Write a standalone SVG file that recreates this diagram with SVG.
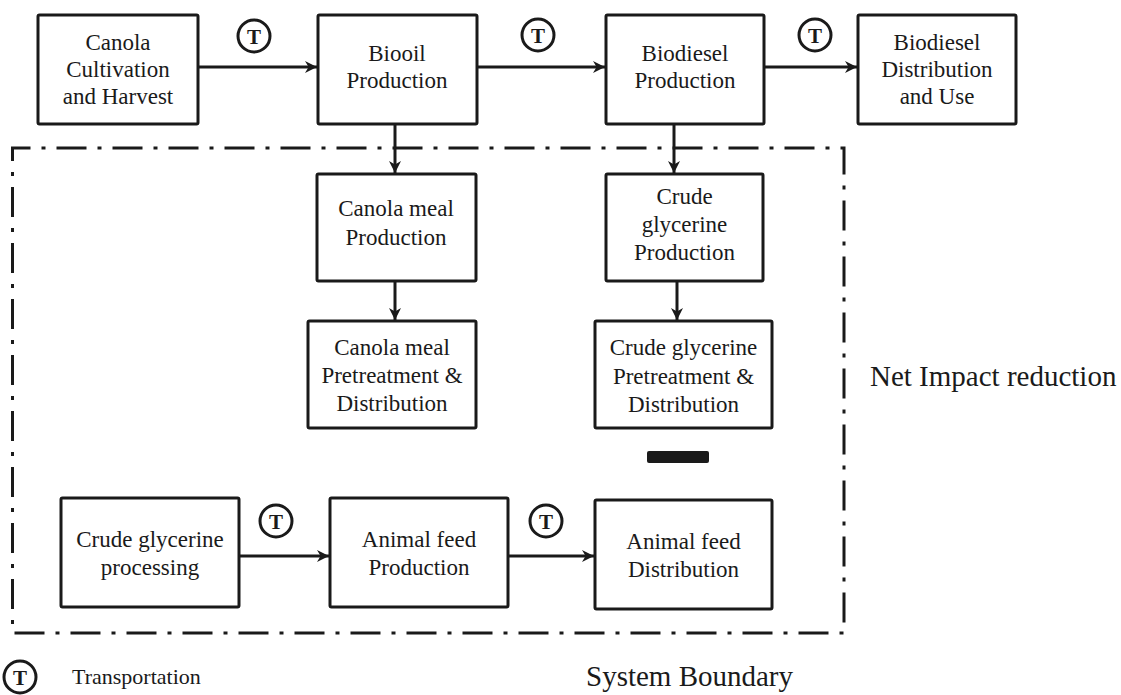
<svg xmlns="http://www.w3.org/2000/svg" width="1121" height="695" viewBox="0 0 1121 695">
  <style>
    .box { fill: #ffffff; stroke: #1a1a1a; stroke-width: 3; }
    .lbl { font-family: "Liberation Serif", "Times New Roman", serif; font-size: 23px; fill: #1a1a1a; text-anchor: middle; }
    .note { font-family: "Liberation Serif", "Times New Roman", serif; fill: #1a1a1a; }
    .flow { stroke: #1a1a1a; stroke-width: 3; fill: none; marker-end: url(#arrow); }
    .tcirc { fill: #ffffff; stroke: #1a1a1a; stroke-width: 3; }
    .tlet { font-family: "Liberation Serif", "Times New Roman", serif; font-size: 21px; font-weight: bold; fill: #1a1a1a; text-anchor: middle; }
    .boundary { fill: none; stroke: #1a1a1a; stroke-width: 3; stroke-dasharray: 30 11 4 11; }
  </style>
  <defs>
    <marker id="arrow" viewBox="0 0 10 10" refX="10" refY="5" markerWidth="4" markerHeight="4" markerUnits="strokeWidth" orient="auto">
      <path d="M0,0 L10,5 L0,10 L3,5 Z" fill="#1a1a1a"/>
    </marker>
    <g id="tsym">
      <circle class="tcirc" cx="0" cy="0" r="16"/>
      <text class="tlet" x="0" y="7.5">T</text>
    </g>
  </defs>
  <rect width="1121" height="695" fill="#ffffff"/>

  <!-- system boundary (dash-dot) -->
  <path class="boundary" d="M12.5,160 L12.5,148 L844,148 L844,633 L12.5,633 Z"/>

  <!-- connectors -->
  <g id="connectors">
    <line class="flow" x1="198" y1="67" x2="317" y2="67"/>
    <line class="flow" x1="477" y1="67" x2="605" y2="67"/>
    <line class="flow" x1="764" y1="67" x2="857" y2="67"/>
    <line class="flow" x1="395" y1="124" x2="395" y2="173"/>
    <line class="flow" x1="674" y1="124" x2="674" y2="173"/>
    <line class="flow" x1="395" y1="281" x2="395" y2="320"/>
    <line class="flow" x1="677" y1="281" x2="677" y2="320"/>
    <line class="flow" x1="239" y1="556" x2="329" y2="556"/>
    <line class="flow" x1="508" y1="556" x2="594" y2="556"/>
    <use href="#tsym" x="254" y="36"/>
    <use href="#tsym" x="538" y="35"/>
    <use href="#tsym" x="815" y="35"/>
    <use href="#tsym" x="276" y="521"/>
    <use href="#tsym" x="546" y="521"/>
  </g>

  <!-- top row -->
  <g id="canola-cultivation">
    <rect class="box" x="38" y="15" width="160" height="109" rx="1.5"/>
    <text class="lbl" x="118" y="50">Canola</text>
    <text class="lbl" x="118" y="77">Cultivation</text>
    <text class="lbl" x="118" y="104">and Harvest</text>
  </g>
  <g id="biooil-production">
    <rect class="box" x="318" y="15" width="159" height="109" rx="1.5"/>
    <text class="lbl" x="397" y="61">Biooil</text>
    <text class="lbl" x="397" y="88">Production</text>
  </g>
  <g id="biodiesel-production">
    <rect class="box" x="606" y="15" width="158" height="109" rx="1.5"/>
    <text class="lbl" x="685" y="61">Biodiesel</text>
    <text class="lbl" x="685" y="88">Production</text>
  </g>
  <g id="biodiesel-distribution">
    <rect class="box" x="858" y="15" width="158" height="109" rx="1.5"/>
    <text class="lbl" x="937" y="50">Biodiesel</text>
    <text class="lbl" x="937" y="77">Distribution</text>
    <text class="lbl" x="937" y="104">and Use</text>
  </g>

  <!-- co-product branches -->
  <g id="canola-meal-production">
    <rect class="box" x="317" y="174" width="159" height="107" rx="1.5"/>
    <text class="lbl" x="396" y="216">Canola meal</text>
    <text class="lbl" x="396" y="245">Production</text>
  </g>
  <g id="canola-meal-pretreatment">
    <rect class="box" x="308" y="321" width="168" height="107" rx="1.5"/>
    <text class="lbl" x="392" y="355">Canola meal</text>
    <text class="lbl" x="392" y="383">Pretreatment &amp;</text>
    <text class="lbl" x="392" y="411">Distribution</text>
  </g>
  <g id="crude-glycerine-production">
    <rect class="box" x="606" y="174" width="157" height="107" rx="1.5"/>
    <text class="lbl" x="684.5" y="204">Crude</text>
    <text class="lbl" x="684.5" y="232">glycerine</text>
    <text class="lbl" x="684.5" y="260">Production</text>
  </g>
  <g id="crude-glycerine-pretreatment">
    <rect class="box" x="595" y="321" width="177" height="107" rx="1.5"/>
    <text class="lbl" x="683.5" y="355">Crude glycerine</text>
    <text class="lbl" x="683.5" y="384">Pretreatment &amp;</text>
    <text class="lbl" x="683.5" y="412">Distribution</text>
  </g>
  <g id="minus-sign">
    <rect x="647" y="451" width="62" height="12" rx="2" fill="#1a1a1a"/>
  </g>

  <!-- bottom row -->
  <g id="crude-glycerine-processing">
    <rect class="box" x="61" y="498" width="178" height="109" rx="1.5"/>
    <text class="lbl" x="150" y="547">Crude glycerine</text>
    <text class="lbl" x="150" y="575">processing</text>
  </g>
  <g id="animal-feed-production">
    <rect class="box" x="330" y="498" width="178" height="109" rx="1.5"/>
    <text class="lbl" x="419" y="547">Animal  feed</text>
    <text class="lbl" x="419" y="575">Production</text>
  </g>
  <g id="animal-feed-distribution">
    <rect class="box" x="595" y="500" width="177" height="109" rx="1.5"/>
    <text class="lbl" x="683.5" y="549">Animal  feed</text>
    <text class="lbl" x="683.5" y="577">Distribution</text>
  </g>

  <!-- side notes and legend -->
  <text class="note" x="870" y="386" font-size="29">Net Impact reduction</text>
  <text class="note" x="586" y="686" font-size="29">System Boundary</text>
  <g id="legend">
    <use href="#tsym" x="20" y="677"/>
    <text class="note" x="72" y="684" font-size="22">Transportation</text>
  </g>
</svg>
